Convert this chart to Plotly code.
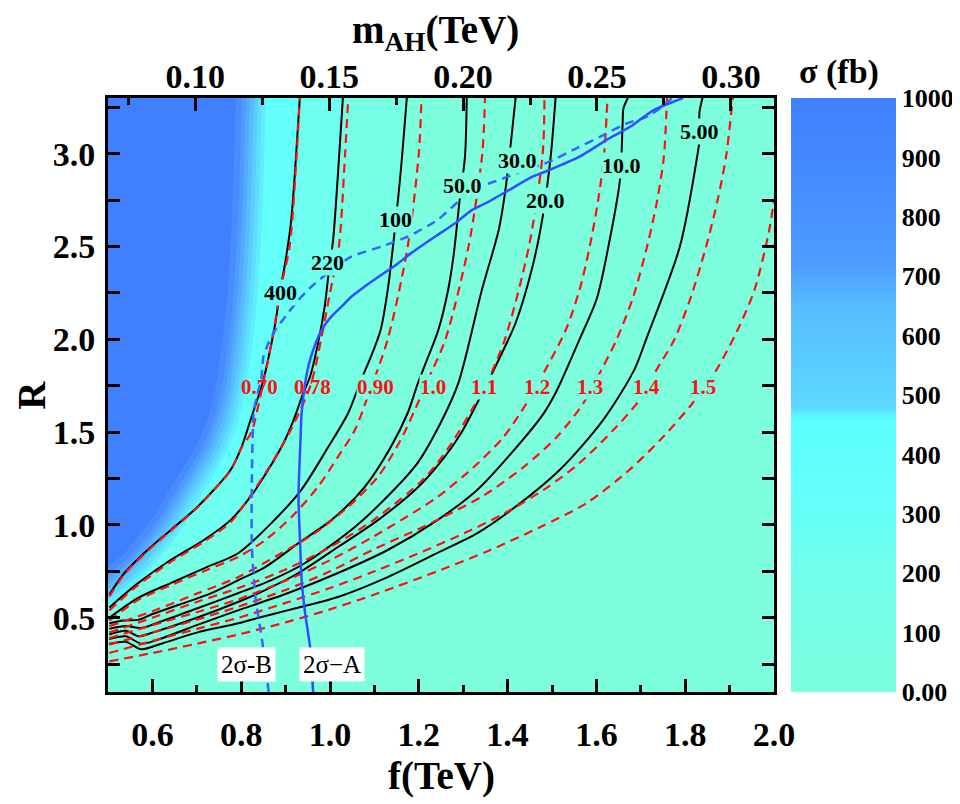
import plotly.graph_objects as go

# axis ranges
f_range = [0.5, 2.0]
R_range = [0.1, 3.3]
mAH_range = [0.0674, 0.3161]   # top axis, m_AH(TeV) over the same width as f

# ---------------- sigma contours (fb), black solid
s400_f = [0.503, 0.537, 0.589, 0.641, 0.694, 0.738, 0.776, 0.801, 0.821, 0.850, 0.865, 0.877, 0.888, 0.899, 0.912, 0.921, 0.932]
s400_R = [0.625, 0.741, 0.865, 0.972, 1.080, 1.188, 1.296, 1.421, 1.565, 1.781, 1.942, 2.088, 2.266, 2.411, 2.627, 2.896, 3.300]

s220_f = [0.503, 0.567, 0.641, 0.716, 0.776, 0.821, 0.865, 0.895, 0.918, 0.940, 0.955, 0.973, 0.988, 0.996, 1.007, 1.018, 1.029]
s220_R = [0.555, 0.685, 0.811, 0.919, 1.026, 1.152, 1.313, 1.440, 1.565, 1.711, 1.798, 1.978, 2.176, 2.337, 2.535, 2.894, 3.300]

s100_f = [0.503, 0.567, 0.641, 0.720, 0.794, 0.868, 0.935, 0.996, 1.041, 1.070, 1.092, 1.114, 1.130, 1.146, 1.159, 1.173]
s100_R = [0.500, 0.606, 0.687, 0.770, 0.849, 1.010, 1.188, 1.420, 1.603, 1.781, 1.905, 2.050, 2.266, 2.589, 2.896, 3.300]

s50_f = [0.503, 0.535, 0.570, 0.600, 0.660, 0.730, 0.794, 0.854, 0.929, 1.003, 1.078, 1.137, 1.175, 1.198, 1.221, 1.244, 1.266, 1.278, 1.292, 1.304, 1.308]
s50_R = [0.470, 0.485, 0.490, 0.520, 0.570, 0.630, 0.703, 0.773, 0.902, 1.026, 1.204, 1.420, 1.603, 1.764, 1.905, 2.050, 2.266, 2.445, 2.750, 2.984, 3.300]

s30_f = [0.503, 0.540, 0.575, 0.620, 0.700, 0.794, 0.868, 0.944, 1.056, 1.137, 1.197, 1.249, 1.289, 1.342, 1.380, 1.395, 1.418]
s30_R = [0.440, 0.455, 0.445, 0.480, 0.550, 0.633, 0.703, 0.795, 0.989, 1.172, 1.333, 1.549, 1.764, 2.266, 2.589, 2.804, 3.300]

s20_f = [0.503, 0.540, 0.570, 0.600, 0.700, 0.794, 0.854, 0.929, 1.018, 1.108, 1.197, 1.246, 1.294, 1.349, 1.380, 1.418, 1.456, 1.479, 1.497, 1.508]
s20_R = [0.410, 0.430, 0.400, 0.420, 0.500, 0.586, 0.649, 0.741, 0.881, 1.026, 1.200, 1.330, 1.490, 1.740, 1.890, 2.088, 2.391, 2.660, 2.984, 3.300]

s10_f = [0.503, 0.540, 0.575, 0.610, 0.700, 0.794, 0.906, 1.018, 1.130, 1.242, 1.332, 1.406, 1.481, 1.510, 1.562, 1.601, 1.627, 1.653, 1.659, 1.661, 1.671]
s10_R = [0.385, 0.400, 0.360, 0.380, 0.460, 0.541, 0.633, 0.741, 0.865, 1.026, 1.190, 1.380, 1.600, 1.720, 2.000, 2.220, 2.500, 2.858, 3.160, 3.245, 3.300]

s5_f = [0.503, 0.540, 0.575, 0.620, 0.700, 0.794, 0.839, 0.906, 1.018, 1.130, 1.242, 1.332, 1.399, 1.517, 1.615, 1.685, 1.712, 1.788, 1.828, 1.833, 1.832, 1.839]
s5_R = [0.360, 0.370, 0.330, 0.360, 0.420, 0.470, 0.500, 0.541, 0.612, 0.719, 0.849, 0.956, 1.064, 1.296, 1.565, 1.834, 2.000, 2.500, 3.000, 3.090, 3.220, 3.300]

sig_text = ["400", "220", "100", "50.0", "30.0", "20.0", "10.0", "5.00"]
sig_lab_f = [0.889, 0.994, 1.148, 1.298, 1.423, 1.486, 1.656, 1.833]
sig_lab_R = [2.254, 2.416, 2.643, 2.831, 2.966, 2.750, 2.939, 3.120]

# ---------------- red dashed contours (labels 0.70 ... 1.5)
r070_f = [0.503, 0.537, 0.589, 0.641, 0.694, 0.738, 0.776, 0.801, 0.823, 0.848, 0.870, 0.888, 0.909, 0.925, 0.932]
r070_R = [0.615, 0.735, 0.860, 0.968, 1.078, 1.186, 1.294, 1.418, 1.500, 1.750, 2.000, 2.266, 2.500, 3.000, 3.300]

r078_f = [0.503, 0.567, 0.641, 0.716, 0.776, 0.823, 0.868, 0.909, 0.956, 0.980, 1.000, 1.020, 1.034, 1.041]
r078_R = [0.540, 0.675, 0.800, 0.910, 1.015, 1.165, 1.330, 1.500, 1.750, 2.000, 2.250, 2.500, 3.000, 3.300]

r090_f = [0.503, 0.567, 0.641, 0.720, 0.794, 0.854, 0.914, 0.973, 1.018, 1.056, 1.085, 1.130, 1.175, 1.200, 1.206]
r090_R = [0.485, 0.595, 0.675, 0.755, 0.829, 0.918, 1.044, 1.206, 1.367, 1.511, 1.691, 2.000, 2.500, 3.000, 3.300]

r100_f = [0.503, 0.600, 0.700, 0.794, 0.891, 0.966, 1.041, 1.108, 1.159, 1.201, 1.228, 1.260, 1.312, 1.343, 1.349]
r100_R = [0.455, 0.535, 0.630, 0.720, 0.849, 0.956, 1.098, 1.260, 1.457, 1.673, 1.820, 2.000, 2.500, 3.000, 3.300]

r110_f = [0.503, 0.600, 0.700, 0.794, 0.900, 1.000, 1.100, 1.212, 1.271, 1.332, 1.356, 1.394, 1.448, 1.479, 1.483]
r110_R = [0.420, 0.500, 0.585, 0.660, 0.760, 0.880, 1.030, 1.250, 1.430, 1.673, 1.780, 2.000, 2.500, 3.000, 3.300]

r120_f = [0.503, 0.600, 0.700, 0.794, 0.900, 1.000, 1.100, 1.197, 1.242, 1.324, 1.391, 1.443, 1.481, 1.531, 1.562, 1.585, 1.604, 1.617, 1.625]
r120_R = [0.390, 0.460, 0.530, 0.600, 0.700, 0.810, 0.940, 1.080, 1.150, 1.312, 1.474, 1.657, 1.818, 2.050, 2.266, 2.499, 2.750, 2.984, 3.300]

r130_f = [0.503, 0.600, 0.700, 0.794, 0.900, 1.000, 1.100, 1.197, 1.257, 1.347, 1.436, 1.511, 1.571, 1.611, 1.645, 1.683, 1.714, 1.737, 1.752, 1.759]
r130_R = [0.355, 0.420, 0.490, 0.560, 0.650, 0.750, 0.870, 0.975, 1.045, 1.160, 1.312, 1.474, 1.657, 1.834, 1.996, 2.229, 2.499, 2.750, 2.984, 3.300]

r140_f = [0.503, 0.600, 0.700, 0.794, 0.900, 1.000, 1.100, 1.197, 1.302, 1.391, 1.488, 1.562, 1.638, 1.697, 1.735, 1.775, 1.813, 1.847, 1.873, 1.892, 1.907]
r140_R = [0.310, 0.375, 0.440, 0.500, 0.580, 0.660, 0.750, 0.845, 0.955, 1.060, 1.200, 1.334, 1.511, 1.673, 1.834, 1.996, 2.229, 2.499, 2.750, 2.984, 3.300]

r150_f = [0.503, 0.600, 0.700, 0.794, 0.900, 1.000, 1.100, 1.249, 1.361, 1.473, 1.578, 1.674, 1.750, 1.817, 1.870, 1.918, 1.956, 1.988, 2.000]
r150_R = [0.265, 0.310, 0.360, 0.410, 0.475, 0.545, 0.625, 0.757, 0.865, 0.988, 1.118, 1.296, 1.474, 1.657, 1.834, 2.050, 2.266, 2.573, 2.750]

red_text = ["0.70", "0.78", "0.90", "1.0", "1.1", "1.2", "1.3", "1.4", "1.5"]
red_lab_f = [0.841, 0.960, 1.103, 1.231, 1.347, 1.466, 1.585, 1.713, 1.839]
red_lab_R = [1.743, 1.743, 1.743, 1.743, 1.743, 1.743, 1.743, 1.743, 1.743]

# ---------------- 2 sigma bounds (blue)
sigA_f = [0.962, 0.955, 0.944, 0.936, 0.933, 0.929, 0.933, 0.936, 0.944, 0.951, 0.962, 0.981, 1.003, 1.026, 1.048,
          1.093, 1.153, 1.182, 1.242, 1.282, 1.320, 1.357, 1.403, 1.456, 1.494, 1.562, 1.623, 1.676, 1.729, 1.795]
sigA_R = [0.100, 0.344, 0.524, 0.703, 0.882, 1.158, 1.421, 1.601, 1.763, 1.852, 1.942, 2.050, 2.122, 2.176, 2.229,
          2.310, 2.409, 2.463, 2.562, 2.625, 2.697, 2.741, 2.804, 2.876, 2.912, 2.984, 3.074, 3.145, 3.235, 3.300]

sigB_f = [0.862, 0.847, 0.832, 0.824, 0.824, 0.828, 0.836, 0.845, 0.850, 0.861, 0.877, 0.899, 0.929, 0.958, 1.003,
          1.048, 1.115, 1.175, 1.242, 1.320, 1.380, 1.441, 1.494, 1.555, 1.608, 1.669, 1.714, 1.759, 1.770]
sigB_R = [0.100, 0.380, 0.613, 0.882, 1.242, 1.603, 1.700, 1.781, 1.906, 1.978, 2.050, 2.122, 2.212, 2.283, 2.373,
          2.445, 2.499, 2.553, 2.643, 2.804, 2.858, 2.912, 2.957, 3.029, 3.091, 3.164, 3.199, 3.273, 3.300]

# edge of the saturated (sigma ~ 1000 fb) blue corner
blue_f = [0.460, 0.500, 0.537, 0.565, 0.597, 0.642, 0.675, 0.705, 0.728, 0.745, 0.758, 0.768, 0.781, 0.788, 0.790]
blue_R = [0.700, 0.773, 0.849, 0.930, 1.026, 1.204, 1.330, 1.458, 1.600, 1.781, 2.000, 2.212, 2.751, 3.300, 3.400]

# colour bar
cbar_vals = [0, 100, 200, 300, 400, 500, 600, 700, 800, 900, 1000]
cbar_text = ["0.00", "100", "200", "300", "400", "500", "600", "700", "800", "900", "1000"]
cscale = [[0.0, "#7DFFDE"], [0.2, "#72FFEC"], [0.3, "#66FFF8"], [0.46, "#5CFFFF"], [0.48, "#5CD8FF"],
          [0.65, "#58BCFF"], [0.72, "#4C9CFF"], [0.85, "#468CFF"], [1.0, "#4080FF"]]

FONT = "Liberation Serif"
bg_base = "#7DFFDE"

fig = go.Figure()

# background bands, drawn as regions left of the contours
f_lo, R_hi = f_range[0] - 0.2, R_range[1] + 0.3
for fs, Rs, col in [(s100_f, s100_R, "#77FFE6"), (s220_f, s220_R, "#6EFFF0"), (s400_f, s400_R, "#63FFFB")]:
    fig.add_trace(go.Scatter(x=fs + [f_lo, f_lo], y=Rs + [R_hi, Rs[0]], mode="lines", fill="toself",
                             fillcolor=col, line=dict(width=0), hoverinfo="skip"))

# soft edge of the blue corner
glow = [(60, "#60EEFF"), (52, "#5EDDFF"), (44, "#5BCCFF"), (36, "#58BBFF"), (28, "#54AAFF"),
        (20, "#4E9AFF"), (12, "#488CFF")]
for w, col in glow:
    fig.add_trace(go.Scatter(x=blue_f, y=blue_R, mode="lines", line=dict(width=w, color=col, shape="spline"),
                             hoverinfo="skip"))
fig.add_trace(go.Scatter(x=blue_f + [f_lo, f_lo], y=blue_R + [R_hi, blue_R[0]], mode="lines", fill="toself",
                         fillcolor="#4080FF", line=dict(width=0, shape="spline"), hoverinfo="skip"))

# black sigma contours
for fs, Rs in [(s400_f, s400_R), (s220_f, s220_R), (s100_f, s100_R), (s50_f, s50_R),
               (s30_f, s30_R), (s20_f, s20_R), (s10_f, s10_R), (s5_f, s5_R)]:
    fig.add_trace(go.Scatter(x=fs, y=Rs, mode="lines", line=dict(color="black", width=2, shape="spline", smoothing=0.8),
                             hoverinfo="skip"))

# red dashed contours
for fs, Rs in [(r070_f, r070_R), (r078_f, r078_R), (r090_f, r090_R), (r100_f, r100_R), (r110_f, r110_R),
               (r120_f, r120_R), (r130_f, r130_R), (r140_f, r140_R), (r150_f, r150_R)]:
    fig.add_trace(go.Scatter(x=fs, y=Rs, mode="lines",
                             line=dict(color="#FF1010", width=2.2, dash="9px,6px", shape="spline", smoothing=0.8),
                             hoverinfo="skip"))

# 2 sigma lines
fig.add_trace(go.Scatter(x=sigB_f, y=sigB_R, mode="lines",
                         line=dict(color="#3366FF", width=2.5, dash="9px,6px", shape="spline", smoothing=0.6),
                         hoverinfo="skip"))
fig.add_trace(go.Scatter(x=sigA_f, y=sigA_R, mode="lines",
                         line=dict(color="#3050FF", width=2.5, shape="spline", smoothing=0.6), hoverinfo="skip"))

# dummy traces: one for the top axis, one carrying the colour bar
fig.add_trace(go.Scatter(x=[mAH_range[0]], y=[R_range[0]], xaxis="x2", mode="markers",
                         marker=dict(opacity=0), hoverinfo="skip"))
cbar = dict(x=1.0254, xanchor="left", xpad=0, y=0.5, yanchor="middle", ypad=0, len=1, thickness=105,
            outlinewidth=0, ticks="", tickvals=cbar_vals, ticktext=["<b>" + t + "</b>" for t in cbar_text],
            tickfont=dict(family=FONT, size=26, color="black"))
fig.add_trace(go.Scatter(x=[None], y=[None], mode="markers", hoverinfo="skip",
                         marker=dict(color=[0], cmin=0, cmax=1000, colorscale=cscale, showscale=True,
                                     colorbar=cbar)))

ann = []
sig_bg = ["#66FFF8", "#70FFEE", "#7AFFE3", bg_base, bg_base, bg_base, bg_base, bg_base]
for t, x, y, b in zip(sig_text, sig_lab_f, sig_lab_R, sig_bg):
    ann.append(dict(x=x, y=y, xref="x", yref="y", text="<b>" + t + "</b>", showarrow=False, bgcolor=b,
                    borderpad=0, font=dict(family=FONT, size=22, color="black")))
red_bg = ["rgba(0,0,0,0)", "rgba(0,0,0,0)", "#7AFFE3", bg_base, bg_base, bg_base, bg_base, bg_base, bg_base]
for t, x, y, b in zip(red_text, red_lab_f, red_lab_R, red_bg):
    ann.append(dict(x=x, y=y, xref="x", yref="y", text="<b>" + t + "</b>", showarrow=False, bgcolor=b,
                    borderpad=0, font=dict(family=FONT, size=21, color="#FF1010")))
for t, x in [("2σ-B", 0.813), ("2σ−A", 1.005)]:
    ann.append(dict(x=x, y=0.25, xref="x", yref="y", text=t, showarrow=False, bgcolor="white", borderpad=3,
                    font=dict(family=FONT, size=25, color="black")))

# axis titles
title_font = dict(family=FONT, size=39, color="black")
ann.append(dict(x=0.5, y=-0.141, xref="paper", yref="paper", xanchor="center", yanchor="middle",
                text="<b>f(TeV)</b>", showarrow=False, font=title_font))
ann.append(dict(x=-0.116, y=0.5, xref="paper", yref="paper", xanchor="center", yanchor="middle",
                text="<b>R</b>", showarrow=False, textangle=-90, font=title_font))
ann.append(dict(x=0.491, y=1.111, xref="paper", yref="paper", xanchor="center", yanchor="middle",
                text="<b>m<sub>AH</sub>(TeV)</b>", showarrow=False, font=title_font))
ann.append(dict(x=1.097, y=1.044, xref="paper", yref="paper", xanchor="center", yanchor="middle",
                text="<b>σ (fb)</b>", showarrow=False, font=dict(family=FONT, size=34, color="black")))

xt = [0.6, 0.8, 1.0, 1.2, 1.4, 1.6, 1.8, 2.0]
yt = [0.25, 0.5, 0.75, 1.0, 1.25, 1.5, 1.75, 2.0, 2.25, 2.5, 2.75, 3.0, 3.25]
mt = [0.10, 0.15, 0.20, 0.25, 0.30]
tickfont = dict(family=FONT, size=34, color="black")

# the page adds an 8px body margin, so the figure is drawn 8px smaller
fig.update_layout(
    width=952, height=796,
    margin=dict(l=100, r=182, t=90, b=112),
    paper_bgcolor="white", plot_bgcolor=bg_base,
    showlegend=False,
    annotations=ann,
    xaxis=dict(range=f_range, tickvals=xt, ticktext=["<b>%.1f</b>" % v for v in xt], ticks="inside",
               ticklen=13, tickwidth=2.5, tickcolor="black", tickfont=tickfont, ticklabelstandoff=10,
               minor=dict(tickvals=[0.7, 0.9, 1.1, 1.3, 1.5, 1.7, 1.9], ticks="inside", ticklen=7, tickwidth=2.5,
                          tickcolor="black"),
               showline=True, linewidth=3, linecolor="black", mirror=True, showgrid=False, zeroline=False),
    xaxis2=dict(range=mAH_range, overlaying="x", side="top", anchor="y", tickvals=mt,
                ticktext=["<b>%.2f</b>" % v for v in mt], ticks="inside", ticklen=13, tickwidth=2.5,
                tickcolor="black", tickfont=tickfont, ticklabelstandoff=2,
                minor=dict(tickvals=[0.075, 0.125, 0.175, 0.225, 0.275], ticks="inside", ticklen=7,
                           tickwidth=2.5, tickcolor="black"),
                showline=False, showgrid=False, zeroline=False),
    yaxis=dict(range=R_range, tickvals=yt,
               ticktext=["<b>%.1f</b>" % v if abs(v * 2 - round(v * 2)) < 1e-9 else "" for v in yt],
               ticks="inside", ticklen=12, tickwidth=2.5, tickcolor="black", tickfont=tickfont,
               ticklabelstandoff=3, showline=True, linewidth=3, linecolor="black", mirror="ticks",
               showgrid=False, zeroline=False),
)

fig.write_html("out.html")
